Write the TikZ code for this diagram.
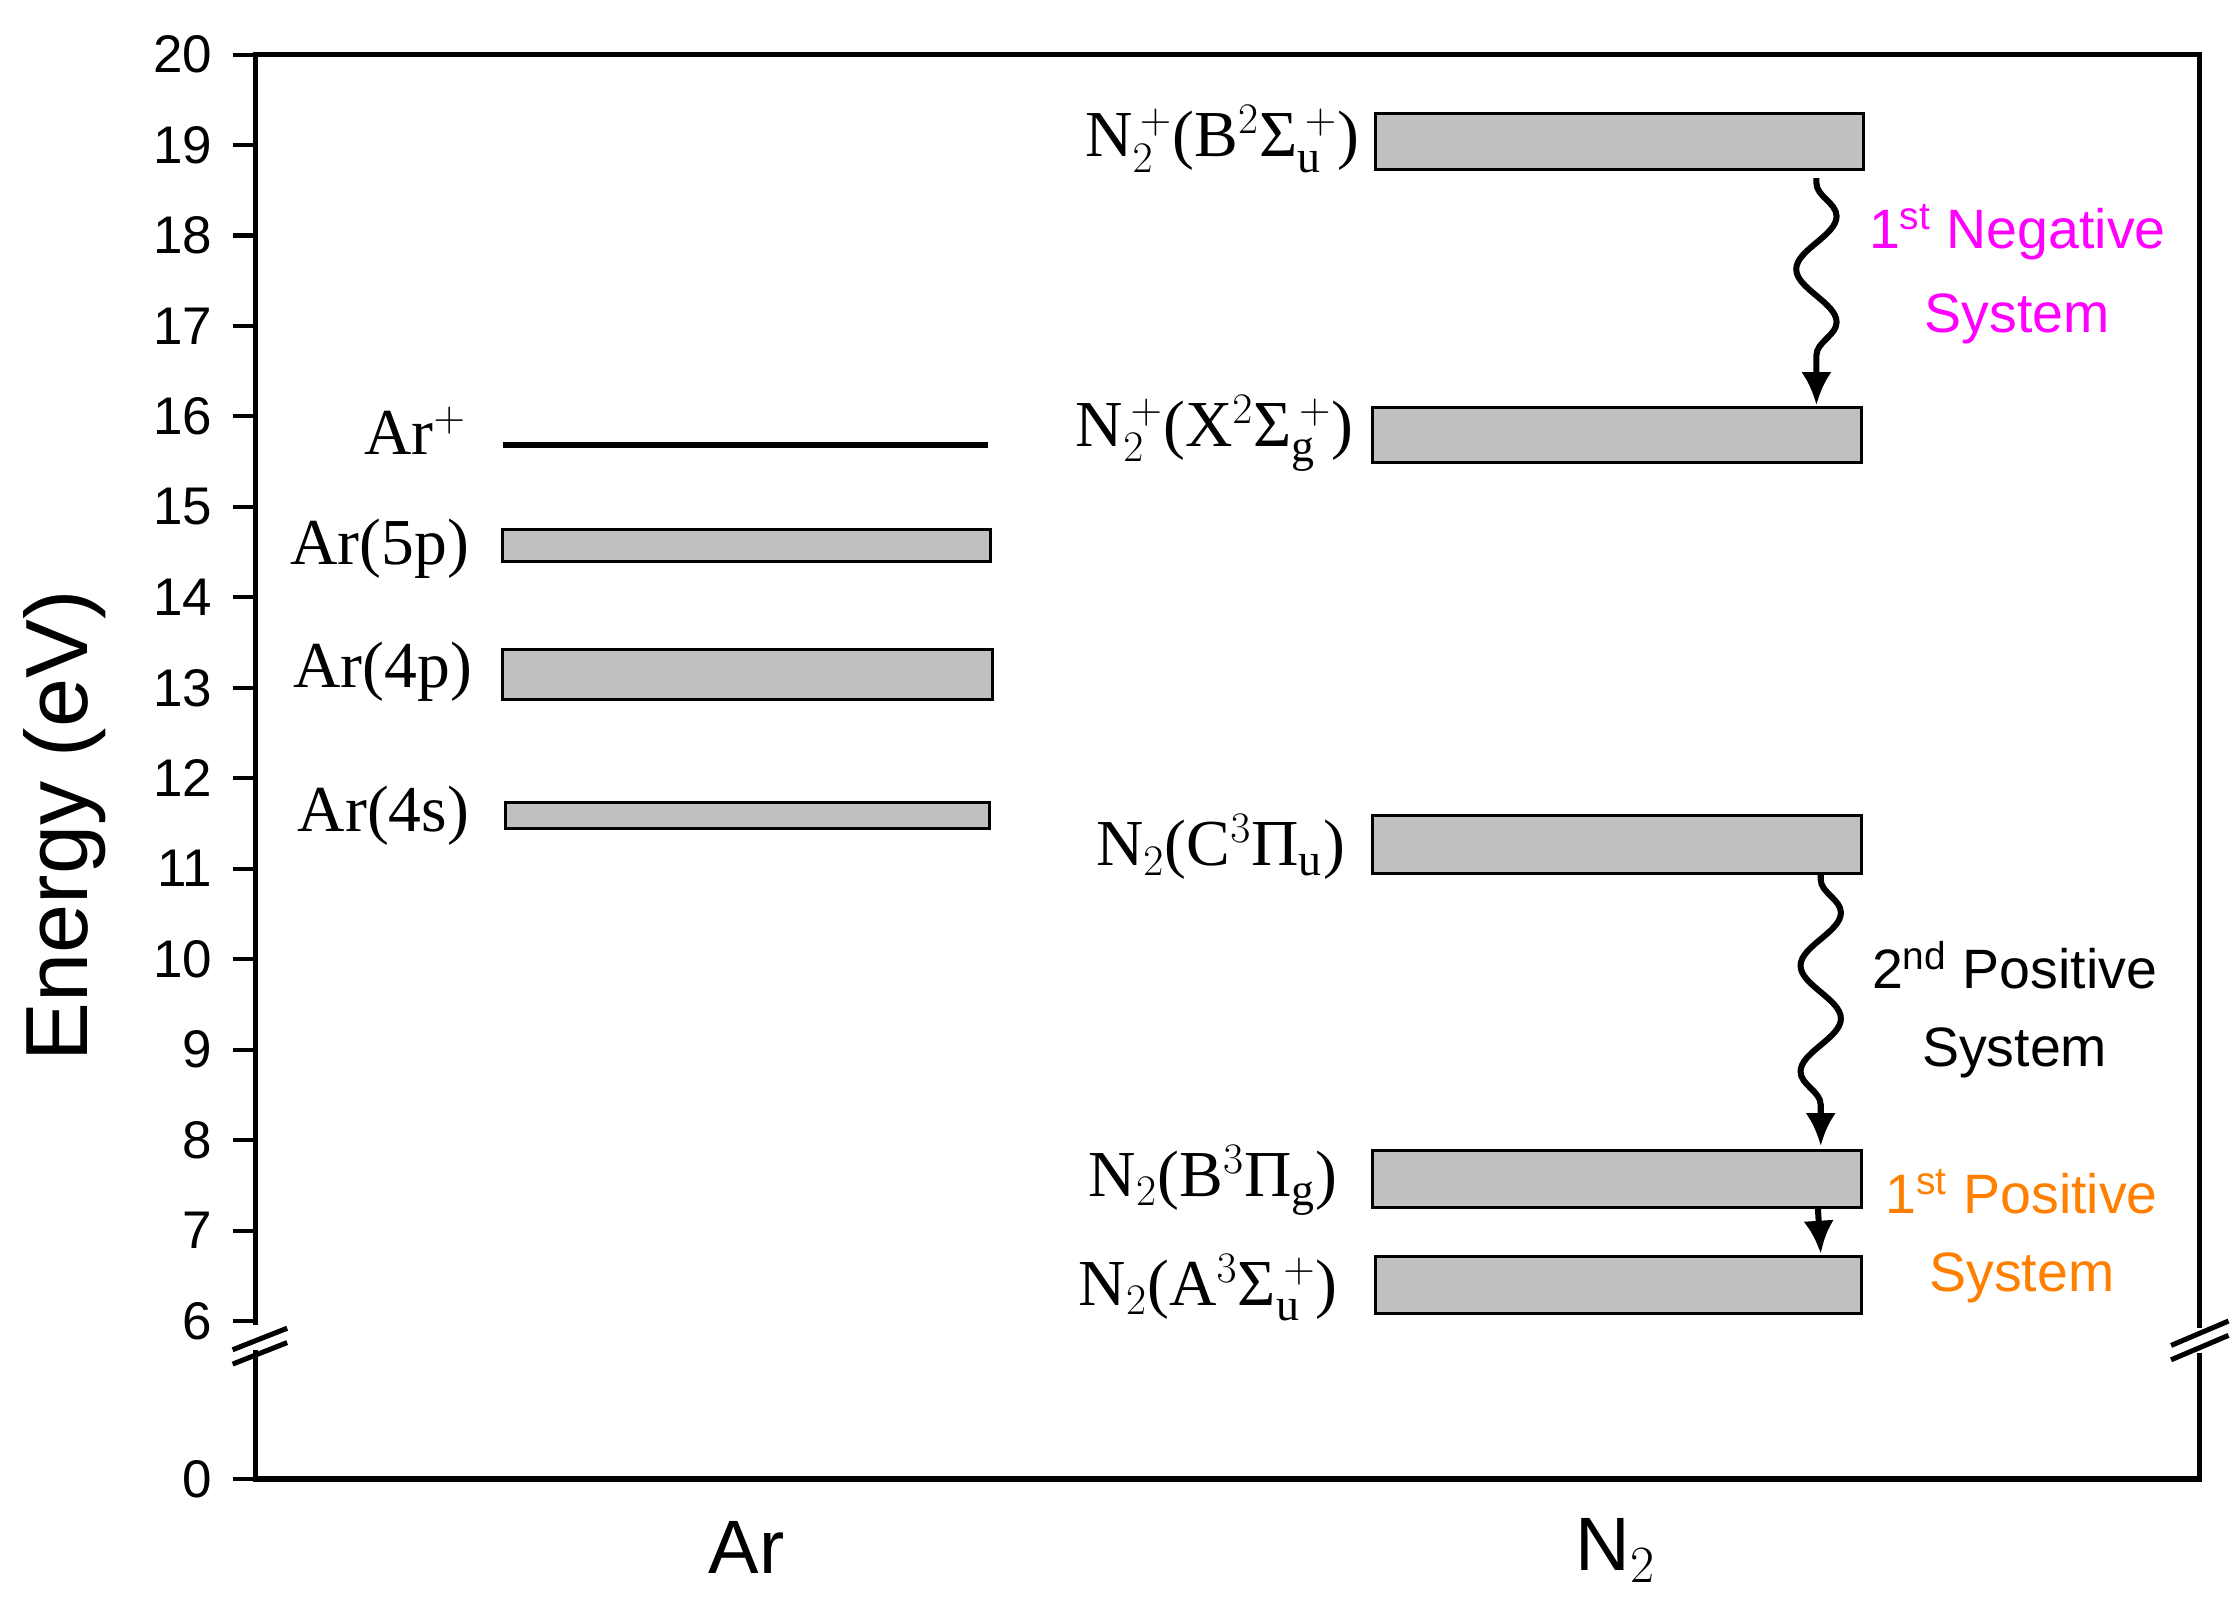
\documentclass[tikz,border=0pt]{standalone}
\usepackage{fontspec}
\setmainfont{Liberation Serif}
\newfontfamily\sansf{Liberation Sans}
\usetikzlibrary{decorations.pathmorphing,arrows.meta}
\definecolor{barg}{RGB}{192,192,192}
\definecolor{mag}{RGB}{255,0,255}
\definecolor{orng}{RGB}{255,128,0}
\begin{document}
\begin{tikzpicture}[x=0.02cm,y=-0.02cm,
  lvl/.style={draw=black,line width=1.2pt,fill=barg},
  lab/.style={anchor=east,font=\fontsize{26}{28}\selectfont,inner sep=0pt},
  tick/.style={anchor=east,font=\sansf\fontsize{21}{24}\selectfont,inner sep=0pt},
  sys/.style={font=\sansf\fontsize{22}{26}\selectfont,inner sep=0pt},
  wav/.style={line width=2.4pt,-{Latex[length=13pt,width=12pt]},decorate,decoration={snake,amplitude=8pt,segment length=42pt,post length=16pt,pre length=2pt}},
  str/.style={line width=2.4pt,-{Latex[length=13pt,width=12pt]}}]
\useasboundingbox (0,0) rectangle (1560,1130);
% axes
\draw[line width=2pt] (178,923) -- (178,38) -- (1532,38) -- (1532,925);
\draw[line width=2pt] (178,940) -- (178,1030) -- (1532,1030) -- (1532,942);
\draw[line width=2pt] (162,940) -- (200,925);
\draw[line width=2pt] (162,950) -- (200,935);
\draw[line width=2pt] (1512,937) -- (1552,920);
\draw[line width=2pt] (1512,947) -- (1552,930);
\foreach \v in {6,...,20}{
  \draw[line width=1.6pt] (162,{38+(20-\v)*63.0}) -- (178,{38+(20-\v)*63.0});
  \node[tick] (t\v) at (148,{38+(20-\v)*63.0}) {\v};
}
\draw[line width=1.6pt] (162,1030) -- (178,1030);
\node[tick] (t0) at (148,1030) {0};
\node[rotate=90,font=\sansf\fontsize{35}{40}\selectfont] (ylab) at (45,575) {Energy (eV)};
\node[font=\sansf\fontsize{30}{34}\selectfont] (xar) at (520,1078) {Ar};
\node[font=\sansf\fontsize{30}{34}\selectfont] (xn2) at (1125,1080) {N$_2$};
% Ar levels
\draw[line width=2.4pt] (350,310) -- (688,310);
\node[lab] (arp) at (325,300) {Ar$^{+}$};
\draw[lvl] (350,369) rectangle (690,391); \node[lab] (ar5p) at (327,382) {Ar(5p)};
\draw[lvl] (350,452) rectangle (691,487); \node[lab] (ar4p) at (329,468) {Ar(4p)};
\draw[lvl] (352,559) rectangle (689,577); \node[lab] (ar4s) at (327,568) {Ar(4s)};
% N2 levels
\node[lvl,minimum width=340*0.02cm,minimum height=39*0.02cm,inner sep=0pt,anchor=north west] (lB2) at (957,78) {};
\node[lvl,minimum width=340*0.02cm,minimum height=38*0.02cm,inner sep=0pt,anchor=north west] (lX2) at (955,283) {};
\node[lvl,minimum width=340*0.02cm,minimum height=40*0.02cm,inner sep=0pt,anchor=north west] (lC3) at (955,567) {};
\node[lvl,minimum width=340*0.02cm,minimum height=40*0.02cm,inner sep=0pt,anchor=north west] (lB3) at (955,800) {};
\node[lvl,minimum width=338*0.02cm,minimum height=40*0.02cm,inner sep=0pt,anchor=north west] (lA3) at (957,874) {};
\node[lab] (nB2) at (947,97) {N$_2^{\,+}$(B$^2$Σ$_\mathrm{u}^{\,+}$)};
\node[lab] (nX2) at (943,302) {N$_2^{\,+}$(X$^2$Σ$_\mathrm{g}^{\,+}$)};
\node[lab] (nC3) at (937,590) {N$_2$(C$^3$Π$_\mathrm{u}$)};
\node[lab] (nB3) at (932,822) {N$_2$(B$^3$Π$_\mathrm{g}$)};
\node[lab] (nA3) at (932,897) {N$_2$(A$^3$Σ$_\mathrm{u}^{\,+}$)};
% transitions
\coordinate (a1) at (1265,124); \coordinate (a2) at (1265,282);
\coordinate (b1) at (1268,609); \coordinate (b2) at (1268,798);
\coordinate (c1) at (1266,841); \coordinate (c2) at (1268,873);
\draw[wav] (a1) -- (a2);
\draw[wav] (b1) -- (b2);
\draw[str] (c1) -- (c2);
\node[sys,text=mag] (s1a) at (1405,162) {1\textsuperscript{st} Negative};
\node[sys,text=mag] (s1b) at (1405,222) {System};
\node[sys] (s2a) at (1403,672) {2\textsuperscript{nd} Positive};
\node[sys] (s2b) at (1403,733) {System};
\node[sys,text=orng] (s3a) at (1408,830) {1\textsuperscript{st} Positive};
\node[sys,text=orng] (s3b) at (1408,890) {System};
\end{tikzpicture}
\end{document}
